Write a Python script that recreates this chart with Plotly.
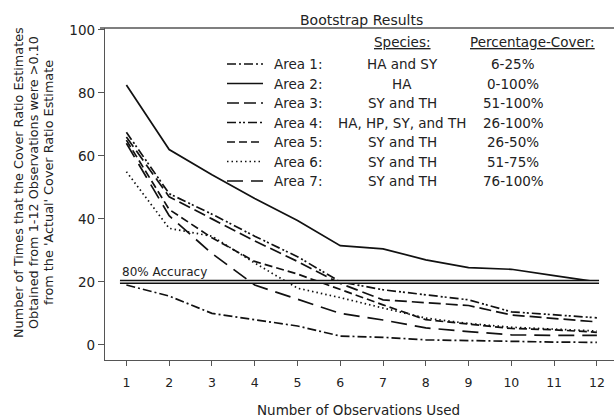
import plotly.graph_objects as go

# ---------------- data ----------------
observations = list(range(1, 13))
area_1 = [19, 15.5, 10, 8, 6, 2.8, 2.4, 1.6, 1.3, 1.0, 0.9, 0.8]
area_2 = [82.5, 62, 54, 46.5, 39.5, 31.5, 30.5, 27, 24.5, 24, 22, 20]
area_3 = [66, 47, 40, 33, 26.5, 19.5, 14.3, 13.3, 12.5, 9.5, 8.5, 7.3]
area_4 = [67.5, 48, 41.5, 34.5, 28, 20, 17.5, 15.9, 14.3, 10.5, 9.5, 8.6]
area_5 = [65, 43, 34, 26.5, 22.5, 17.5, 12.7, 8, 6.5, 5.2, 4.8, 4.0]
area_6 = [55, 37, 34.5, 26, 18, 15, 11.7, 8.5, 6.8, 5.6, 5.0, 4.4]
area_7 = [64, 41, 29, 19, 14.5, 10, 7.9, 5.4, 4.2, 3.2, 3.0, 3.0]

area_names = ["Area 1:", "Area 2:", "Area 3:", "Area 4:", "Area 5:", "Area 6:", "Area 7:"]
species = ["HA and SY", "HA", "SY and TH", "HA, HP, SY, and TH", "SY and TH", "SY and TH", "SY and TH"]
cover = ["6-25%", "0-100%", "51-100%", "26-100%", "26-50%", "51-75%", "76-100%"]
series = [area_1, area_2, area_3, area_4, area_5, area_6, area_7]
dashes = ["9px,3px,2px,3px", "solid", "12px,5px", "9px,3px,2px,2px,2px,3px",
          "8px,4px", "1.5px,3px", "16px,8px"]

y_title_lines = ["Number of Times that the Cover Ratio Estimates",
                 "Obtained from 1-12 Observations were >0.10",
                 "from the 'Actual' Cover Ratio Estimate"]

accuracy_level = 20
y_ticks = [0, 20, 40, 60, 80, 100]

FONT = "Liberation Sans, Arial, sans-serif"
WIDE = "DejaVu Sans, Verdana, sans-serif"
INK = "#222222"

fig = go.Figure()
for name, ys, d in zip(area_names, series, dashes):
    fig.add_trace(go.Scatter(x=observations, y=ys, mode="lines", name=name,
                             line=dict(color="#111111", width=1.7, dash=d),
                             showlegend=False))

# plot geometry in pixels (for legend placement)
L, R, T, B = 105, 614, 28, 360
def px(x):
    return (x - L) / (R - L)
def py(y):
    return (B - y) / (B - T)

def note(x, y, text, xanchor="center", size=13.5, family=WIDE, **kw):
    fig.add_annotation(x=x, y=y, xref="paper", yref="paper", text=text,
                       showarrow=False, xanchor=xanchor, yanchor="middle",
                       font=dict(family=family, size=size, color=INK), **kw)

# 80% accuracy double line
fig.add_shape(type="line", xref="x", yref="y", x0=0.85, x1=12.05,
              y0=accuracy_level, y1=accuracy_level,
              line=dict(color="#111111", width=4.2), layer="above")
fig.add_shape(type="line", xref="x", yref="y", x0=0.85, x1=12.05,
              y0=accuracy_level, y1=accuracy_level,
              line=dict(color="white", width=1.2), layer="above")
fig.add_annotation(x=0.85, y=accuracy_level, xref="x", yref="y", text="80% Accuracy",
                   showarrow=False, xanchor="left", yanchor="bottom", yshift=1,
                   font=dict(family=WIDE, size=12, color=INK))

# top border line
fig.add_shape(type="line", xref="paper", yref="paper", x0=px(100), x1=1, y0=1, y1=1,
              line=dict(color="#555555", width=1.4))

# title
note(px(361), py(20), "Bootstrap Results", size=14)

# legend headers
note(px(402), py(42), "<u>Species:</u>")
note(px(532), py(42), "<u>Percentage-Cover:</u>")

row_y = [64, 83.5, 103, 122.5, 142, 161.5, 181]
for i in range(7):
    yy = py(row_y[i])
    fig.add_shape(type="line", xref="paper", yref="paper", x0=px(227), x1=px(263),
                  y0=yy, y1=yy, line=dict(color="#111111", width=1.7, dash=dashes[i]))
    note(px(272), yy, area_names[i], xanchor="left")
    note(px(402), yy, species[i])
    note(px(513), yy, cover[i])

# y-axis title (three lines, tight spacing)
for xp, line_text in zip([18, 33, 48], y_title_lines):
    note(px(xp), py(183), line_text, size=12.8, textangle=-90)

# x-axis title
note(px(358), py(410), "Number of Observations Used", size=13.5)

fig.update_layout(
    width=614, height=420,
    margin=dict(l=L, r=614 - R, t=T, b=420 - B, autoexpand=False),
    paper_bgcolor="white", plot_bgcolor="white",
    font=dict(family=FONT, size=13, color=INK),
    showlegend=False,
    xaxis=dict(range=[0.5, 12.4], tickmode="array", tickvals=observations,
               showgrid=False, zeroline=False, showline=True, linecolor="#555555",
               linewidth=1.4, ticks="outside", ticklen=5, tickcolor="#555555",
               automargin=False, ticklabelstandoff=6,
               tickfont=dict(family=WIDE, size=12.5, color=INK)),
    yaxis=dict(range=[-4.8, 100.6], tickmode="array", tickvals=y_ticks,
               showgrid=False, zeroline=False, showline=True, linecolor="#555555",
               linewidth=1.4, ticks="outside", ticklen=6, tickcolor="#555555",
               automargin=False,
               tickfont=dict(family=WIDE, size=13.5, color=INK)),
)

fig.write_html("out.html", config={"displayModeBar": False},
               post_script="document.body.style.margin='0';")
